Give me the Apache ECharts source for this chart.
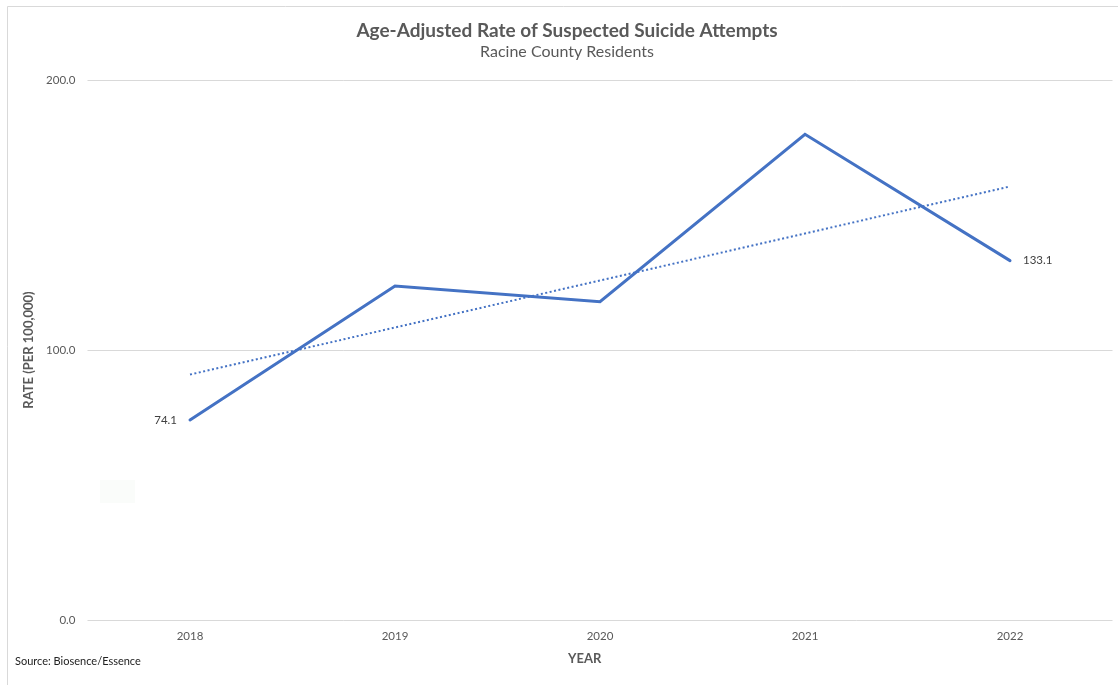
<!DOCTYPE html>
<html>
<head>
<meta charset="utf-8">
<script src="https://cdn.jsdelivr.net/npm/echarts@6/dist/echarts.min.js"></script>
<style>
html,body{margin:0;padding:0;background:#fff;}
#c{width:1118px;height:685px;}
</style>
</head>
<body>
<div id="c"></div>
<script>
var years = ['2018', '2019', '2020', '2021', '2022'];
var rates = [74.1, 123.7, 117.9, 179.9, 133.1];
var yTicks = [0, 100, 200];

// Linear trendline (least squares) over the observed rates
var n = rates.length;
var mx = (n - 1) / 2;
var my = rates.reduce(function (a, b) { return a + b; }, 0) / n;
var sxy = 0, sxx = 0;
for (var i = 0; i < n; i++) { sxy += (i - mx) * (rates[i] - my); sxx += (i - mx) * (i - mx); }
var slope = sxy / sxx, intercept = my - slope * mx;
var trend = rates.map(function (_, i) { return +(intercept + slope * i).toFixed(2); });

var font = 'Lato, "Open Sans", sans-serif';
var chart = echarts.init(document.getElementById('c'));
chart.setOption({
  animation: false,
  backgroundColor: '#ffffff',
  title: {
    text: 'Age-Adjusted Rate of Suspected Suicide Attempts',
    subtext: 'Racine County Residents',
    left: 562, textAlign: 'center', top: 16,
    textStyle: { fontFamily: font, fontSize: 19, fontWeight: 'bold', color: '#595959' },
    subtextStyle: { fontFamily: font, fontSize: 16, color: '#595959' },
    itemGap: 4
  },
  grid: { left: 87.5, right: 5.5, top: 80, bottom: 65, containLabel: false },
  xAxis: {
    type: 'category', data: years, boundaryGap: true,
    axisLine: { show: false }, axisTick: { show: false },
    axisLabel: { margin: 10, fontFamily: font, fontSize: 11.5, color: '#595959' }
  },
  yAxis: {
    type: 'value', min: yTicks[0], max: yTicks[yTicks.length - 1], interval: 100,
    name: 'RATE (PER 100,000)', nameLocation: 'middle', nameGap: 45,
    nameTextStyle: { fontFamily: font, fontSize: 13, fontWeight: 'bold', color: '#595959' },
    axisLine: { show: false }, axisTick: { show: false },
    axisLabel: { margin: 12, fontFamily: font, fontSize: 11.5, color: '#595959',
      formatter: function (v) { return v.toFixed(1); } },
    splitLine: { lineStyle: { color: '#d9d9d9', width: 1 } }
  },
  series: [
    {
      type: 'line', name: 'Rate', data: rates.map(function (v, i) {
        var item = { value: v };
        if (i === 0) item.label = { show: true, position: 'left', distance: 12 };
        else if (i === n - 1) item.label = { show: true, position: 'right', distance: 12 };
        return item;
      }),
      showSymbol: true, symbol: 'circle', symbolSize: 2,
      itemStyle: { color: 'rgba(0,0,0,0)' },
      lineStyle: { color: '#4472C4', width: 3, cap: 'round', join: 'miter' },
      label: { show: false, fontFamily: font, fontSize: 11.5, color: '#404040',
        formatter: function (p) { return Number(p.value).toFixed(1); } },
      z: 3
    },
    {
      type: 'line', name: 'Trend', data: trend, symbol: 'none', silent: true,
      lineStyle: { color: '#4472C4', width: 2, type: [2, 2.5] },
      z: 2
    }
  ],
  graphic: [
    { type: 'rect', left: 5, top: 4, shape: { width: 1120, height: 680 },
      style: { fill: 'none', stroke: '#d9d9d9', lineWidth: 1 }, silent: true, z: -1 },
    { type: 'rect', left: 100, top: 480, shape: { width: 35, height: 23 },
      style: { fill: '#fafcfa' }, silent: true, z: -1 },
    { type: 'text', left: 568, top: 652, style: { text: 'YEAR',
      font: 'bold 13px ' + font, fill: '#595959' } },
    { type: 'text', left: 15, top: 656, style: { text: 'Source: Biosence/Essence',
      font: '11px ' + font, fill: '#222222' } }
  ]
});
</script>
</body>
</html>
